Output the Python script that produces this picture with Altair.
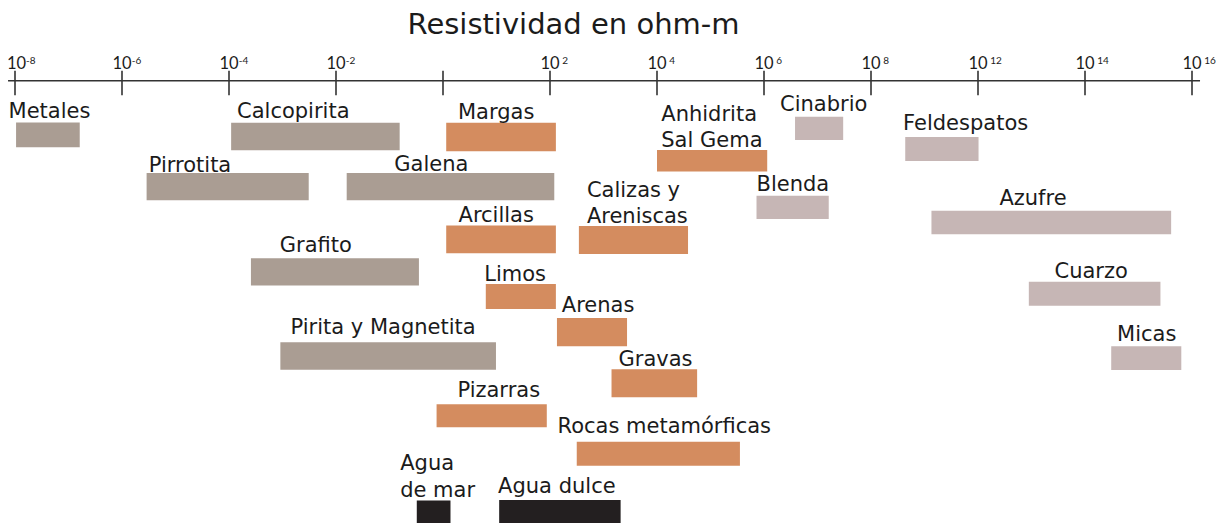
import altair as alt
import pandas as pd

# --- Data -------------------------------------------------------------
# Horizontal position in axis units (exponent position of the tick grid)
nombres = ["Metales", "Calcopirita", "Margas", "Pirrotita", "Galena",
           "Anhidrita Sal Gema", "Cinabrio", "Feldespatos", "Blenda",
           "Calizas y Areniscas", "Arcillas", "Azufre", "Grafito", "Limos",
           "Cuarzo", "Arenas", "Pirita y Magnetita", "Micas", "Gravas",
           "Pizarras", "Rocas metamórficas", "Agua de mar", "Agua dulce"]
tipos = ["metal", "metal", "roca", "metal", "metal",
         "roca", "mineral", "mineral", "mineral",
         "roca", "roca", "mineral", "metal", "roca",
         "mineral", "roca", "metal", "mineral", "roca",
         "roca", "roca", "agua", "agua"]
inicio = [-7.98, -3.96, 0.06, -5.54, -1.80,
          4.00, 6.58, 8.64, 5.86,
          2.54, 0.06, 9.13, -3.59, 0.80,
          10.95, 2.13, -3.04, 12.49, 3.15,
          -0.12, 2.50, -0.49, 1.05]
fin = [-6.79, -0.81, 2.11, -2.51, 2.08,
       6.06, 7.48, 10.01, 7.21,
       4.58, 2.11, 13.61, -0.45, 2.11,
       13.41, 3.44, 0.99, 13.80, 4.75,
       1.94, 5.55, 0.14, 3.32]
# vertical level (rows, top / bottom of each bar)
fila_sup = [122.5, 122.7, 122.7, 173, 173,
            150, 116.7, 137, 195.7,
            226, 225.5, 210.7, 258.3, 284,
            281.7, 318, 342.3, 346.3, 369.3,
            404.3, 441.7, 500.5, 500]
fila_inf = [147.3, 150.3, 151.3, 200.3, 200.3,
            171.5, 140, 161, 219,
            254, 253.3, 234.3, 285.5, 309,
            305.7, 346.3, 369.7, 370, 397.3,
            427.3, 465.7, 540, 540]

etiquetas = ["Metales", "Calcopirita", "Margas", "Pirrotita", "Galena",
             "Anhidrita\nSal Gema", "Cinabrio", "Feldespatos", "Blenda",
             "Calizas y\nAreniscas", "Arcillas", "Azufre", "Grafito", "Limos",
             "Cuarzo", "Arenas", "Pirita y Magnetita", "Micas", "Gravas",
             "Pizarras", "Rocas metamórficas", "Agua\nde mar", "Agua dulce"]
etiqueta_x = [-8.12, -3.85, 0.28, -5.50, -0.91,
              4.08, 6.30, 8.60, 5.86,
              2.69, 0.29, 10.40, -3.05, 0.77,
              11.43, 2.22, -2.85, 12.60, 3.28,
              0.27, 2.14, -0.80, 1.03]
etiqueta_y = [118.3, 118.3, 119.3, 171.7, 171.3,
              120.7, 110.7, 130, 191,
              196.7, 221.7, 205, 252.3, 280.7,
              277.7, 311.7, 334.3, 341, 365.7,
              397.3, 432.7, 470, 493.3]

ticks = [-8, -6, -4, -2, 0, 2, 4, 6, 8, 10, 12, 14]
tick_base = ["10", "10", "10", "10", "", "10", "10", "10", "10", "10", "10", "10"]
tick_exp = ["-8", "-6", "-4", "-2", "", "2", "4", "6", "8", "12", "14", "16"]

titulo = "Resistividad en ohm-m"

# --- Tables -------------------------------------------------------------
bars = pd.DataFrame({"nombre": nombres, "tipo": tipos, "inicio": inicio,
                     "fin": fin, "sup": fila_sup, "inf": fila_inf})
labels = pd.DataFrame({"texto": etiquetas, "x": etiqueta_x, "y": etiqueta_y})
tk = pd.DataFrame({"t": ticks, "base": tick_base, "exp": tick_exp})
tk["neg"] = tk["exp"].str.startswith("-")

W, H = 1213, 515
xs = alt.Scale(domain=[-8.1308, 14.542], nice=False, zero=False)
ys = alt.Scale(domain=[8, 8 + H], reverse=True, nice=False, zero=False)

FONT = "DejaVu Sans"
INK = "#1b1b1b"
AXC = "#333333"

barras = alt.Chart(bars).mark_rect(clip=True).encode(
    x=alt.X("inicio:Q", scale=xs, axis=None),
    x2="fin:Q",
    y=alt.Y("sup:Q", scale=ys, axis=None),
    y2="inf:Q",
    color=alt.Color("tipo:N", legend=None,
                    scale=alt.Scale(domain=["metal", "roca", "mineral", "agua"],
                                    range=["#aa9d93", "#d48c5f", "#c6b6b5", "#231f20"])),
)

textos = alt.Chart(labels).mark_text(
    align="left", baseline="alphabetic", font=FONT, fontSize=21,
    lineBreak="\n", lineHeight=26.5, color=INK
).encode(
    x=alt.X("x:Q", scale=xs, axis=None),
    y=alt.Y("y:Q", scale=ys, axis=None),
    text="texto:N",
)

eje = alt.Chart(pd.DataFrame({"a": [-8.13], "b": [14.15], "y": [80.7]})).mark_rule(
    color=AXC, strokeWidth=1.6
).encode(
    x=alt.X("a:Q", scale=xs, axis=None), x2="b:Q",
    y=alt.Y("y:Q", scale=ys, axis=None),
)

marcas = alt.Chart(tk).transform_calculate(y1="70.7", y2="95.3").mark_rule(
    color=AXC, strokeWidth=1.6
).encode(
    x=alt.X("t:Q", scale=xs, axis=None),
    y=alt.Y("y1:Q", scale=ys, axis=None), y2="y2:Q",
)


def base_layer(filtro, dx):
    return alt.Chart(tk).transform_filter(filtro).transform_calculate(
        yb="69.3").mark_text(
        align="center", baseline="alphabetic", font="Lato", fontSize=16.5,
        color=INK, dx=dx
    ).encode(
        x=alt.X("t:Q", scale=xs, axis=None),
        y=alt.Y("yb:Q", scale=ys, axis=None),
        text="base:N",
    )


def exp_layer(filtro, dx):
    return alt.Chart(tk).transform_filter(filtro).transform_calculate(
        ye="63.6").mark_text(
        align="left", baseline="alphabetic", font="Lato", fontSize=10,
        color=INK, dx=dx
    ).encode(
        x=alt.X("t:Q", scale=xs, axis=None),
        y=alt.Y("ye:Q", scale=ys, axis=None),
        text="exp:N",
    )


base_first = base_layer("datum.t == -8", 1.5)
base_rest = base_layer("datum.t != -8 && datum.base != ''", 0)
exp_first = exp_layer("datum.t == -8", 11)
exp_neg = exp_layer("datum.neg && datum.t != -8", 9.8)
exp_pos = exp_layer("!datum.neg && datum.exp != ''", 12.3)

tit = alt.Chart(pd.DataFrame({"t": [titulo]})).mark_text(
    align="center", baseline="alphabetic", font=FONT, fontSize=29, color=INK
).encode(
    x=alt.value(565.5), y=alt.value(26), text="t:N"
)

chart = alt.layer(barras, eje, marcas, base_first, base_rest, exp_first,
                  exp_neg, exp_pos, textos, tit).properties(
    width=W, height=H, autosize=alt.AutoSizeParams(type="none"), padding=0
).configure_view(stroke=None)

chart.save("out.html", embed_options={"renderer": "svg", "actions": False})
